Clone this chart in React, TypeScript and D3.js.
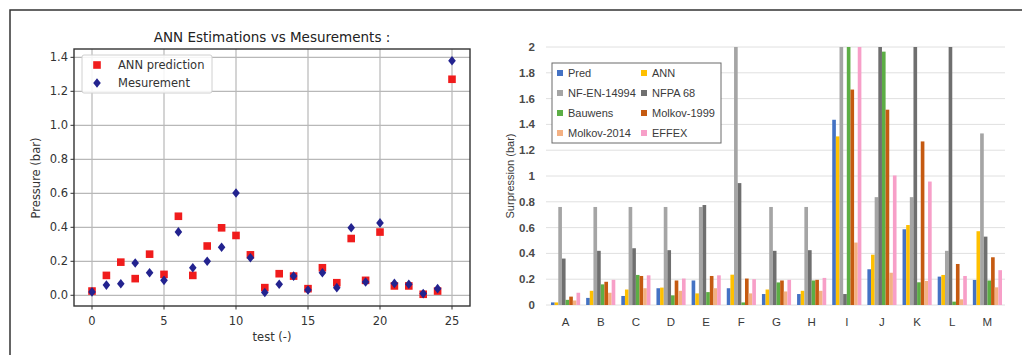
import * as d3 from 'd3'

// left chart: ANN estimations vs measurements
const tests = d3.range(0, 26)
const annPrediction = [
  0.025, 0.117, 0.195, 0.098, 0.242, 0.123, 0.465, 0.117, 0.29, 0.397, 0.352, 0.238, 0.045,
  0.127, 0.113, 0.039, 0.162, 0.074, 0.334, 0.088, 0.372, 0.055, 0.055, 0.006, 0.025, 1.271,
]
const mesurement = [
  0.02, 0.06, 0.068, 0.19, 0.133, 0.088, 0.373, 0.162, 0.2, 0.283, 0.602, 0.221, 0.016,
  0.065, 0.113, 0.031, 0.133, 0.045, 0.397, 0.078, 0.426, 0.07, 0.065, 0.01, 0.039, 1.38,
]
const leftXTicks = [0, 5, 10, 15, 20, 25]
const leftYTicks = [0, 0.2, 0.4, 0.6, 0.8, 1.0, 1.2, 1.4]

// right chart: surpression per case (bars above 2 are cut at the axis top)
const cases = ['A', 'B', 'C', 'D', 'E', 'F', 'G', 'H', 'I', 'J', 'K', 'L', 'M']
const seriesNames = ['Pred', 'ANN', 'NF-EN-14994', 'NFPA 68', 'Bauwens', 'Molkov-1999', 'Molkov-2014', 'EFFEX']
const pred = [0.02, 0.055, 0.07, 0.13, 0.19, 0.13, 0.085, 0.085, 1.436, 0.277, 0.587, 0.22, 0.194]
const ann = [0.02, 0.11, 0.12, 0.135, 0.09, 0.235, 0.12, 0.11, 1.307, 0.39, 0.62, 0.233, 0.572]
const nfEn = [0.76, 0.76, 0.76, 0.76, 0.76, 2, 0.76, 0.76, 2, 0.836, 0.836, 0.42, 1.33]
const nfpa = [0.36, 0.42, 0.44, 0.425, 0.775, 0.945, 0.42, 0.425, 0.085, 2, 2, 2, 0.53]
const bauwens = [0.04, 0.16, 0.233, 0.075, 0.1, 0.02, 0.175, 0.19, 2, 1.964, 0.176, 0.026, 0.19]
const molkov1999 = [0.065, 0.18, 0.225, 0.19, 0.225, 0.205, 0.19, 0.195, 1.67, 1.514, 1.268, 0.318, 0.37]
const molkov2014 = [0.035, 0.095, 0.13, 0.11, 0.13, 0.09, 0.105, 0.11, 0.484, 0.25, 0.186, 0.044, 0.137]
const effex = [0.095, 0.195, 0.23, 0.205, 0.23, 0.2, 0.195, 0.21, 2, 1.004, 0.957, 0.225, 0.27]
const seriesValues = [pred, ann, nfEn, nfpa, bauwens, molkov1999, molkov2014, effex]
const seriesColors = ['#4472c4', '#ffc000', '#a5a5a5', '#6f6f6f', '#5cae45', '#c55a11', '#f4b183', '#f79fc8']
const rightYTicks = [0, 0.2, 0.4, 0.6, 0.8, 1, 1.2, 1.4, 1.6, 1.8, 2]

const MPL_FONT = 'DejaVu Sans, sans-serif'
const XL_FONT = 'Liberation Sans, Arial, sans-serif'

function ScatterChart() {
  const left = 74, right = 470, top = 49, bottom = 306
  const x = d3.scaleLinear().domain([-1.25, 26.25]).range([left, right])
  const y = d3.scaleLinear().domain([-0.063, 1.449]).range([bottom, top])
  const diamond = (cx: number, cy: number) =>
    `M${cx},${cy - 4.8}L${cx + 3.8},${cy}L${cx},${cy + 4.8}L${cx - 3.8},${cy}Z`

  return (
    <g fontFamily={MPL_FONT}>
      {leftXTicks.map(t => (
        <line key={'gx' + t} x1={x(t)} x2={x(t)} y1={top} y2={bottom} stroke="#b8b8b8" strokeWidth={1.2} />
      ))}
      {leftYTicks.map(t => (
        <line key={'gy' + t} x1={left} x2={right} y1={y(t)} y2={y(t)} stroke="#b8b8b8" strokeWidth={1.2} />
      ))}
      {tests.map((t, i) => (
        <rect key={'r' + t} x={x(t) - 3.8} y={y(annPrediction[i]) - 3.8} width={7.6} height={7.6} fill="#f01c1c" />
      ))}
      {tests.map((t, i) => (
        <path key={'d' + t} d={diamond(x(t), y(mesurement[i]))} fill="#23238f" />
      ))}
      <rect x={left} y={top} width={right - left} height={bottom - top} fill="none" stroke="#333" strokeWidth={1.4} />
      {leftXTicks.map(t => (
        <g key={'tx' + t}>
          <line x1={x(t)} x2={x(t)} y1={bottom} y2={bottom + 3.5} stroke="#333" />
          <text x={x(t)} y={bottom + 19} textAnchor="middle" fontSize={11.5} fill="#333">{t}</text>
        </g>
      ))}
      {leftYTicks.map(t => (
        <g key={'ty' + t}>
          <line x1={left - 3.5} x2={left} y1={y(t)} y2={y(t)} stroke="#333" />
          <text x={left - 6} y={y(t) + 4} textAnchor="end" fontSize={11.5} fill="#333">{t.toFixed(1)}</text>
        </g>
      ))}
      <text x={(left + right) / 2} y={42} textAnchor="middle" fontSize={13.5} fill="#222">ANN Estimations vs Mesurements :</text>
      <text x={(left + right) / 2} y={341} textAnchor="middle" fontSize={11.5} fill="#333">test (-)</text>
      <text transform={`translate(40,178) rotate(-90)`} textAnchor="middle" fontSize={11.5} fill="#333">Pressure (bar)</text>

      <rect x={82} y={55} width={130} height={38} rx={2} fill="#fff" fillOpacity={0.85} stroke="#d0d0d0" />
      <rect x={97 - 3.8} y={65 - 3.8} width={7.6} height={7.6} fill="#f01c1c" />
      <text x={118} y={69} fontSize={11.5} fill="#333">ANN prediction</text>
      <path d={diamond(97, 83)} fill="#23238f" />
      <text x={118} y={87} fontSize={11.5} fill="#333">Mesurement</text>
    </g>
  )
}

function BarChart() {
  const left = 548, right = 1005, top = 47, bottom = 305
  const x = d3.scaleBand().domain(cases).range([left, right])
  const bw = x.bandwidth()
  const inner = d3.scaleBand().domain(seriesNames).range([3, bw - 3])
  const y = d3.scaleLinear().domain([0, 2]).range([bottom, top])

  return (
    <g fontFamily={XL_FONT}>
      {rightYTicks.map(t => (
        <g key={'gy' + t}>
          <line x1={left - 2} x2={right} y1={y(t)} y2={y(t)} stroke="#e0e0e0" strokeWidth={1} />
          <text x={535} y={y(t) + 4} textAnchor="end" fontSize={11.5} fontWeight="bold" fill="#4a4a4a">{t}</text>
        </g>
      ))}
      {cases.map((c, ci) => (
        <g key={c} transform={`translate(${x(c)},0)`}>
          {seriesNames.map((s, si) => {
            const v = seriesValues[si][ci]
            return (
              <rect key={s} x={inner(s)} y={y(v)} width={inner.bandwidth()} height={y(0) - y(v)} fill={seriesColors[si]} />
            )
          })}
          <text x={bw / 2} y={326} textAnchor="middle" fontSize={11.5} fill="#3a3a3a">{c}</text>
        </g>
      ))}
      <text transform={`translate(514,176) rotate(-90)`} textAnchor="middle" fontSize={11} fill="#3a3a3a">Surpression (bar)</text>

      <rect x={552} y={63} width={169} height={80} fill="#fff" stroke="#6a6a6a" strokeWidth={1} />
      {seriesNames.map((s, i) => {
        const col = i % 2
        const row = Math.floor(i / 2)
        const sx = col === 0 ? 557 : 641
        const cy = 73 + row * 20
        return (
          <g key={'lg' + s}>
            <rect x={sx} y={cy - 3} width={6} height={6} fill={seriesColors[i]} />
            <text x={sx + 11} y={cy + 4} fontSize={11} fill="#3a3a3a">{s}</text>
          </g>
        )
      })}
    </g>
  )
}

export default function App() {
  return (
    <svg width={1022} height={355} style={{ position: 'absolute', left: 0, top: 0, background: '#fff' }}>
      <rect x={0} y={0} width={1022} height={355} fill="#fff" />
      <path d="M10,355V10H1022" fill="none" stroke="#333" strokeWidth={1.5} />
      <ScatterChart />
      <BarChart />
    </svg>
  )
}
